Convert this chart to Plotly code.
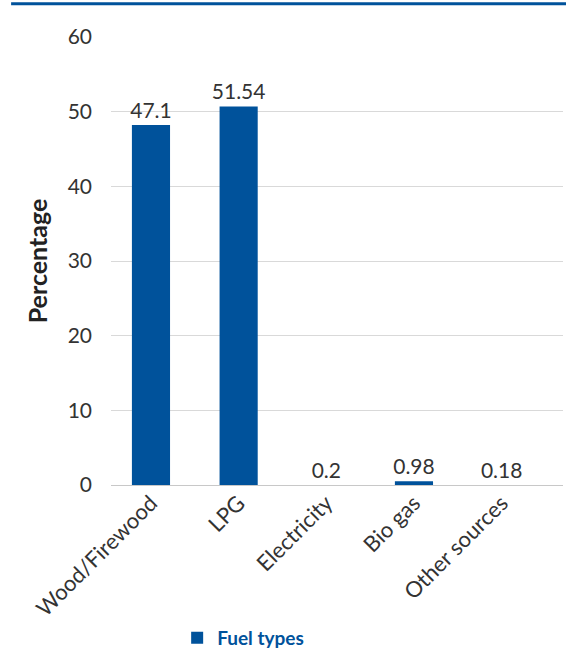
import plotly.graph_objects as go

categories = ["Wood/Firewood", "LPG", "Electricity", "Bio gas", "Other sources"]
bar_heights = [48.2, 50.7, 0.0, 0.5, 0.0]
value_labels = ["47.1", "51.54", "0.2", "0.98", "0.18"]
y_ticks = [0, 10, 20, 30, 40, 50, 60]

BLUE = "#00529b"
FONT = "Lato"

fig = go.Figure()
fig.add_trace(go.Bar(
    x=categories, y=bar_heights, name="Fuel types",
    marker=dict(color=BLUE, line=dict(width=0)),
    width=0.435,
    text=value_labels, textposition="outside", cliponaxis=False,
    constraintext="none",
    textfont=dict(family=FONT, size=21, color="#333333"),
    showlegend=True,
))

fig.update_layout(
    width=566, height=653,
    margin=dict(l=111, r=3, t=37, b=168, autoexpand=False),
    paper_bgcolor="white", plot_bgcolor="white",
    font=dict(family=FONT, color="#333333"),
    xaxis=dict(
        range=[-0.456, 4.70], tickangle=-45, automargin=False,
        tickfont=dict(family=FONT, size=22, color="#333333"),
        showgrid=False, showline=False, ticks="",
    ),
    yaxis=dict(
        range=[0, 60], tickvals=y_ticks, automargin=False,
        tickfont=dict(family=FONT, size=21, color="#333333"),
        gridcolor="#d9d9d9", gridwidth=1,
        zeroline=True, zerolinecolor="#c8c8c8", zerolinewidth=1,
        ticks="", ticklen=0, ticklabelstandoff=18,
        title=dict(text="<b>Percentage</b>", font=dict(family=FONT, size=25, color="#222222"), standoff=12),
    ),
    legend=dict(
        orientation="h", xref="container", yref="container",
        x=0.313, xanchor="left", y=0.023, yanchor="middle",
        font=dict(family=FONT, size=19, color=BLUE, weight="bold"),
        itemwidth=30,
    ),
    shapes=[dict(type="line", xref="paper", yref="paper",
                 x0=-0.221, x1=1.02, y0=1.074, y1=1.074,
                 line=dict(color=BLUE, width=3))],
)

fig.write_html("out.html")
